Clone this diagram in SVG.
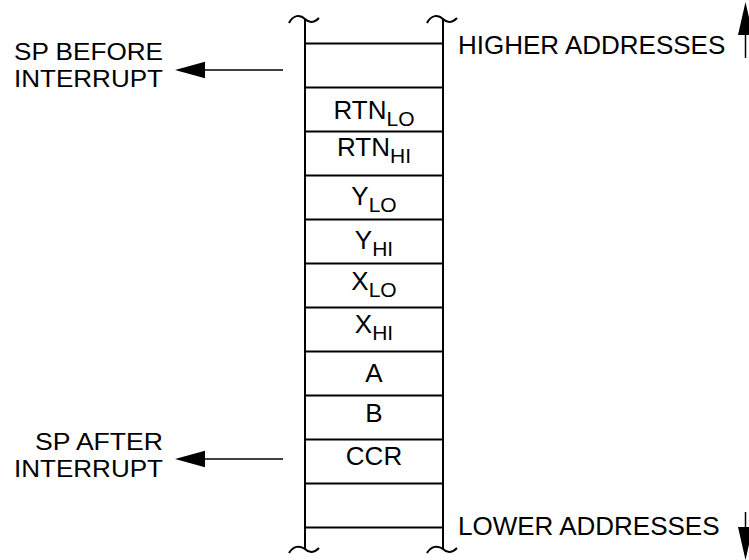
<svg xmlns="http://www.w3.org/2000/svg" width="749" height="560" viewBox="0 0 749 560">
<style>
text{font-family:"Liberation Sans",Arial,sans-serif;font-size:26px;fill:#000}
.c{text-anchor:middle}
.e{text-anchor:end;font-size:24px}
.s{font-size:21px}
.ln{stroke:#000;stroke-width:2;fill:none}
.ar{stroke:#000;stroke-width:1.5;fill:none}
.hd{fill:#000}
</style>
<rect width="749" height="560" fill="#fff"/>
<g id="stack">
<path class="ln" d="M305,19V549M443,19V549"/>
<path class="ln" d="M289,23C293,15 300,14 305,19C309,23 314,23 319,18"/>
<path class="ln" d="M427,23C431,15 438,14 443,19C447,23 452,23 457,18"/>
<path class="ln" d="M289,553C293,546 300,545 305,549C309,553 314,553 319,548"/>
<path class="ln" d="M427,553C431,546 438,545 443,549C447,553 452,553 457,548"/>
<path class="ln" d="M305,43.5H443M305,87.5H443M305,131.5H443M305,175.5H443M305,219.5H443M305,263.5H443M305,307.5H443M305,351.5H443M305,395.5H443M305,439.5H443M305,483.5H443M305,527.5H443"/>
</g>
<g id="cells">
<text class="c" x="374" y="119">RTN<tspan class="s" dy="7">LO</tspan></text>
<text class="c" x="374" y="156">RTN<tspan class="s" dy="7">HI</tspan></text>
<text class="c" x="374" y="205">Y<tspan class="s" dy="7">LO</tspan></text>
<text class="c" x="374" y="249">Y<tspan class="s" dy="7">HI</tspan></text>
<text class="c" x="374" y="290">X<tspan class="s" dy="7">LO</tspan></text>
<text class="c" x="374" y="333">X<tspan class="s" dy="7">HI</tspan></text>
<text class="c" x="374" y="382">A</text>
<text class="c" x="374" y="422">B</text>
<text class="c" x="374" y="465">CCR</text>
</g>
<g id="sp-before">
<text class="e" x="163" y="60" textLength="149" lengthAdjust="spacingAndGlyphs">SP BEFORE</text>
<text class="e" x="163" y="87" textLength="149" lengthAdjust="spacingAndGlyphs">INTERRUPT</text>
</g>
<g id="sp-after">
<text class="e" x="163" y="450" textLength="128" lengthAdjust="spacingAndGlyphs">SP AFTER</text>
<text class="e" x="163" y="477" textLength="149" lengthAdjust="spacingAndGlyphs">INTERRUPT</text>
</g>
<g id="higher">
<text x="458" y="54">HIGHER ADDRESSES</text>
</g>
<g id="lower">
<text x="458" y="535">LOWER ADDRESSES</text>
</g>
<g id="connectors">
<path class="ar" d="M204,70H283"/>
<path class="hd" d="M175,70L205,61.7V78.3Z"/>
<path class="ar" d="M204,459H283"/>
<path class="hd" d="M175,459L205,450.7V467.3Z"/>
<path class="ar" d="M745.5,34V58"/>
<path class="hd" d="M745.5,2L738,35H753Z"/>
<path class="ar" d="M745.5,512V528"/>
<path class="hd" d="M745.5,560L738,527H753Z"/>
</g>
</svg>
